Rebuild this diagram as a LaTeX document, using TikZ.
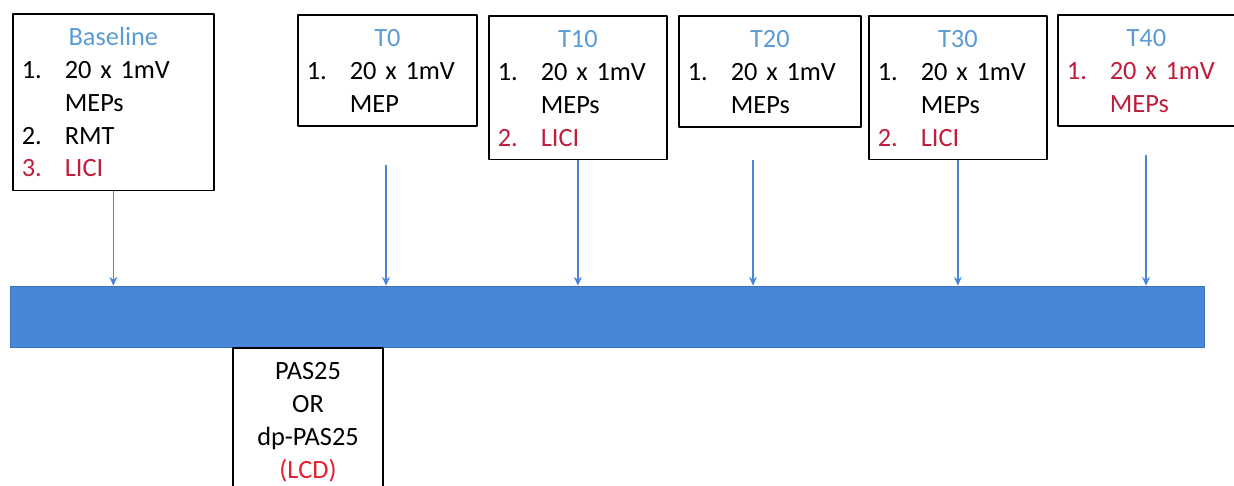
\documentclass[tikz,border=0pt]{standalone}
\usepackage{fontspec}
\setmainfont[WordSpace=0.8]{Carlito}
\usetikzlibrary{arrows.meta}
\definecolor{ttlblue}{RGB}{91,155,213}
\definecolor{barblue}{RGB}{72,134,218}
\definecolor{licired}{RGB}{192,28,60}
\definecolor{lcdred}{RGB}{226,32,48}
\newcommand{\itm}[2]{\makebox[0.86cm][l]{#1}#2}
\newcommand{\cont}[1]{\hspace*{0.86cm}#1}
\newcommand{\ttl}[1]{\makebox[\linewidth][c]{\rule{0pt}{14.5pt}\color{ttlblue}#1}}
\newcommand{\dpt}{\rule[-4.2pt]{0pt}{1pt}}

\begin{document}
\begin{tikzpicture}[x=0.02cm,y=-0.02cm,line join=round]
	\tikzset{every node/.style={font=\fontsize{15}{18.7}\selectfont},
		stage/.style={draw,line width=1pt,anchor=north west,align=left,inner xsep=0.18cm,inner ysep=3.5pt},
		bar/.style={fill=barblue,draw=barblue!85!black,line width=0.4pt,minimum width=23.88cm,minimum height=1.22cm,inner sep=0pt},
		arr/.style={barblue,line width=0.8pt,-{Stealth[length=5pt,width=4.5pt]}}}
	\useasboundingbox (0,0) rectangle (1234,485);
	% time points
	\node[stage,text width=3.66cm] (base) at (12,13) {\ttl{Baseline}\\\itm{1.}{20 x 1mV}\\\cont{MEPs}\\\itm{2.}{RMT}\\\color{licired}\itm{3.}{LICI}\dpt};
	\node[stage,text width=3.22cm] (t0) at (297,14) {\ttl{T0}\\\itm{1.}{20 x 1mV}\\\cont{MEP}\dpt};
	\node[stage,text width=3.20cm] (t10) at (488,15) {\ttl{T10}\\\itm{1.}{20 x 1mV}\\\cont{MEPs}\\\color{licired}\itm{2.}{LICI}\dpt};
	\node[stage,text width=3.28cm] (t20) at (678,15) {\ttl{T20}\\\itm{1.}{20 x 1mV}\\\cont{MEPs}\dpt};
	\node[stage,text width=3.20cm] (t30) at (868,15) {\ttl{T30}\\\itm{1.}{20 x 1mV}\\\cont{MEPs}\\\color{licired}\itm{2.}{LICI}\dpt};
	\node[stage,text width=3.18cm] (t40) at (1057,14) {\ttl{T40}\\\color{licired}\itm{1.}{20 x 1mV}\\\cont{MEPs}\dpt};
	% timeline
	\node[bar] (axis) at (607,316.5) {};
	\node[draw,line width=1pt,anchor=north,text width=3cm,align=center,inner xsep=0pt,inner ysep=3.5pt] (pas) at (308,347) {\rule{0pt}{14.5pt}PAS25\\OR\\dp-PAS25\\\color{lcdred}(LCD)\dpt};
	\coordinate (s0) at (386,165);
	\coordinate (s2) at (753,160);
	\coordinate (s4) at (1146,155);
	\foreach \c in {base.south,s0,t10.south,s2,t30.south,s4}
	\draw[arr] (\c) -- (\c |- axis.north);
\end{tikzpicture}
\end{document}
